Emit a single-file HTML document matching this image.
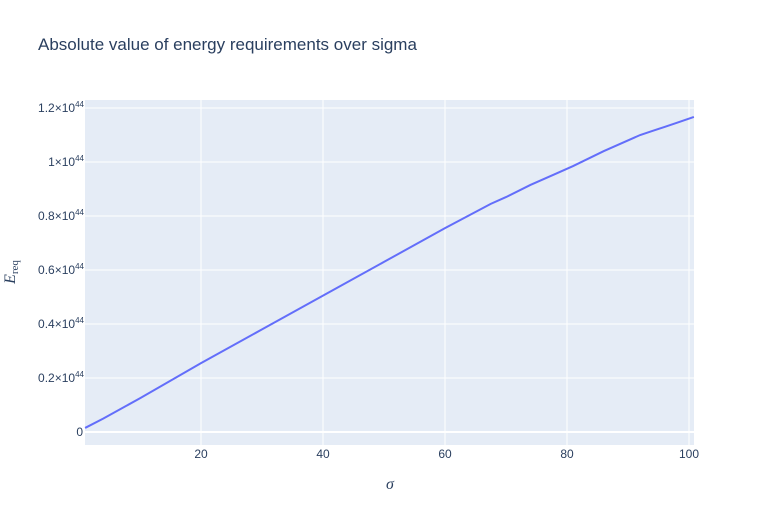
<!DOCTYPE html>
<html><head><meta charset="utf-8"><style>
body{margin:0;background:#fff;font-family:"Liberation Sans",sans-serif}
</style></head><body>
<svg width="774" height="525" xmlns="http://www.w3.org/2000/svg">
<rect x="0" y="0" width="774" height="525" fill="#fff"/>
<text x="38" y="50" font-size="17" fill="#2a3f5f">Absolute value of energy requirements over sigma</text>
<rect x="85" y="100" width="609" height="345" fill="#e5ecf6"/>
<g id="grid"></g>
<g id="ticks" font-size="12" fill="#2a3f5f"></g>
<path id="line" fill="none" stroke="#636efa" stroke-width="2"/>
<text x="390" y="489" font-size="16" font-style="italic" font-family="Liberation Serif,serif" fill="#2a3f5f" text-anchor="middle">σ</text>
<text transform="translate(15,272) rotate(-90)" font-size="16" font-family="Liberation Serif,serif" fill="#2a3f5f" text-anchor="middle"><tspan font-style="italic">E</tspan><tspan font-size="11" dy="3">req</tspan></text>
</svg>
<script>
const sigma=[1,4,10,20,30,40,50,60,67.5,70,74,78,81,86,92,94,96,98,100.8];
const energy=[0.015,0.05,0.125,0.255,0.38,0.505,0.63,0.755,0.845,0.87,0.915,0.955,0.985,1.04,1.1,1.115,1.13,1.145,1.167];
const xTicks=[20,40,60,80,100];
const yTicks=[0,0.2,0.4,0.6,0.8,1,1.2];
const yLabels=["0","0.2×10","0.4×10","0.6×10","0.8×10","1×10","1.2×10"];
const X=v=>79+v*6.1, Y=v=>432-v*270;
const ns="http://www.w3.org/2000/svg";
const grid=document.getElementById('grid'), ticks=document.getElementById('ticks');
xTicks.forEach(t=>{
 const l=document.createElementNS(ns,'line');
 l.setAttribute('x1',X(t));l.setAttribute('x2',X(t));l.setAttribute('y1',100);l.setAttribute('y2',445);
 l.setAttribute('stroke','#fff');l.setAttribute('stroke-width','1');
 
 
 grid.appendChild(l);
 const tx=document.createElementNS(ns,'text');
 tx.setAttribute('x',X(t));tx.setAttribute('y',458);tx.setAttribute('text-anchor','middle');
 tx.textContent=t;
 
 
 ticks.appendChild(tx);
});
yTicks.forEach((t,i)=>{
 const l=document.createElementNS(ns,'line');
 l.setAttribute('x1',85);l.setAttribute('x2',694);l.setAttribute('y1',Y(t));l.setAttribute('y2',Y(t));
 l.setAttribute('stroke','#fff');l.setAttribute('stroke-width',t===0?'2':'1');
 
 
 grid.appendChild(l);
 const tx=document.createElementNS(ns,'text');
 tx.setAttribute('x',84);tx.setAttribute('y',Y(t)+4);tx.setAttribute('text-anchor','end');
 
 
 if(t===0){tx.setAttribute('x',83);tx.textContent="0";}
 else{tx.textContent=yLabels[i];const s=document.createElementNS(ns,'tspan');s.setAttribute('font-size','8');s.setAttribute('dy','-5');s.textContent='44';tx.appendChild(s);tx.setAttribute('x',84);}
 ticks.appendChild(tx);
});
document.getElementById('line').setAttribute('d',sigma.map((s,i)=>(i?'L':'M')+X(s)+','+Y(energy[i])).join(''));
</script>
</body></html>
